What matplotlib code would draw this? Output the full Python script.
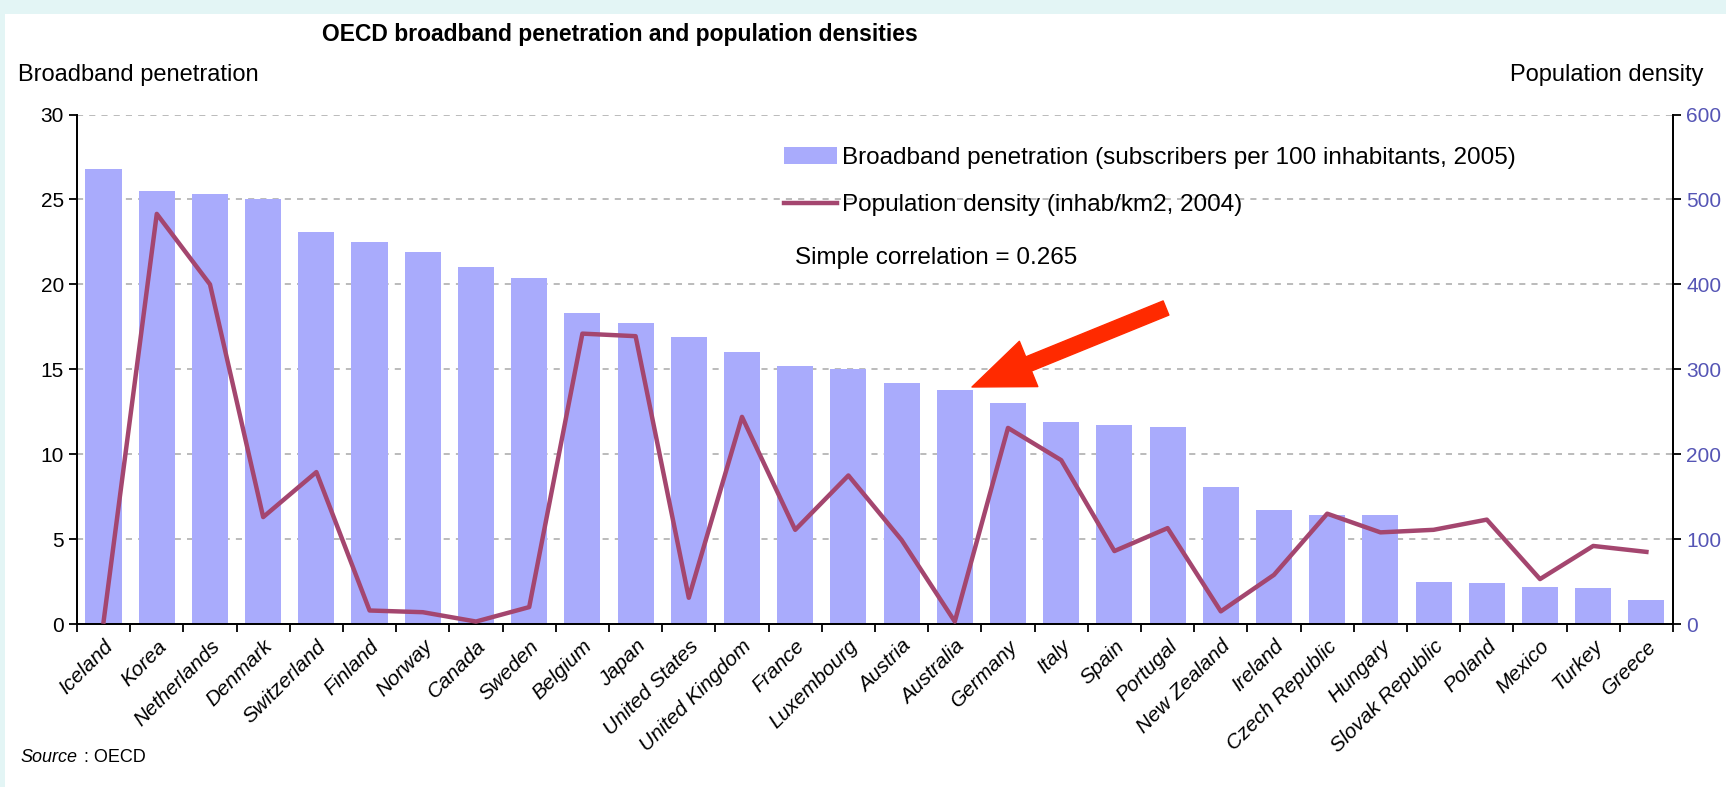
import matplotlib.pyplot as plt
from matplotlib.patches import Rectangle
import numpy as np

# data
countries = ['Iceland', 'Korea', 'Netherlands', 'Denmark', 'Switzerland', 'Finland', 'Norway',
             'Canada', 'Sweden', 'Belgium', 'Japan', 'United States', 'United Kingdom', 'France',
             'Luxembourg', 'Austria', 'Australia', 'Germany', 'Italy', 'Spain', 'Portugal',
             'New Zealand', 'Ireland', 'Czech Republic', 'Hungary', 'Slovak Republic', 'Poland',
             'Mexico', 'Turkey', 'Greece']
broadband = [26.8, 25.5, 25.3, 25.0, 23.1, 22.5, 21.9, 21.0, 20.4, 18.3, 17.7, 16.9, 16.0, 15.2,
             15.0, 14.2, 13.8, 13.0, 11.9, 11.7, 11.6, 8.1, 6.7, 6.4, 6.4, 2.5, 2.4, 2.2, 2.1, 1.4]
density = [3, 483, 400, 126, 179, 16, 14, 3, 20, 342, 339, 31, 244, 111, 175, 99, 3, 231, 193,
           86, 113, 15, 58, 130, 108, 111, 123, 53, 92, 85]

bar_color = '#a9abfc'
line_color = '#a4466f'
plt.rcParams['font.family'] = ['Liberation Sans', 'DejaVu Sans']

fig = plt.figure(figsize=(17.26, 7.87), dpi=100)
fig.patch.set_facecolor('white')
# light cyan frame strips (top and left)
fig.patches.append(Rectangle((0, 1 - 14 / 787), 1, 14 / 787, transform=fig.transFigure,
                             facecolor='#e3f5f5', edgecolor='none', zorder=-5))
fig.patches.append(Rectangle((0, 0), 5 / 1726, 1, transform=fig.transFigure,
                             facecolor='#e3f5f5', edgecolor='none', zorder=-5))

ax = fig.add_axes([0.0446, 0.207, 0.9247, 0.6475])
ax.set_facecolor('none')
x = np.arange(len(countries))
ax.bar(x, broadband, width=0.68, color=bar_color, zorder=2,
       label='Broadband penetration (subscribers per 100 inhabitants, 2005)')
ax.set_xlim(-0.5, len(countries) - 0.5)
ax.set_ylim(0, 30)
ax.set_yticks(range(0, 31, 5))
ax.yaxis.grid(True, linestyle=(0, (4, 4)), color='#a8a8a8', linewidth=1.1, zorder=0)
ax.set_axisbelow(True)
ax.spines['top'].set_visible(False)
for s in ['left', 'bottom', 'right']:
    ax.spines[s].set_linewidth(1.3)
ax.tick_params(axis='y', direction='out', length=6, width=1.3, labelsize=15)

# category ticks at boundaries, labels at centres
ax.set_xticks(np.arange(-0.5, len(countries), 1))
ax.set_xticklabels([])
ax.set_xticks(x, minor=True)
ax.set_xticklabels(countries, minor=True, rotation=45, ha='right', va='top',
                   fontsize=15, style='italic', rotation_mode='anchor')
ax.tick_params(axis='x', which='major', direction='out', length=6, width=1.3)
ax.tick_params(axis='x', which='minor', length=0, pad=9)

ax2 = ax.twinx()
ax2.plot(x, density, color=line_color, linewidth=3.2, zorder=3,
         label='Population density (inhab/km2, 2004)')
ax2.set_ylim(0, 600)
ax2.set_yticks(range(0, 601, 100))
ax2.tick_params(axis='y', direction='out', length=6, width=1.3, labelsize=15, labelcolor='#5555b5')
ax2.spines['top'].set_visible(False)
for s in ['left', 'bottom', 'right']:
    ax2.spines[s].set_linewidth(1.3)

h1, l1 = ax.get_legend_handles_labels()
h2, l2 = ax2.get_legend_handles_labels()
ax2.legend(h1 + h2, l1 + l2, loc='upper left', bbox_to_anchor=(0.429, 0.98),
           frameon=False, prop={'size': 17.5}, handlelength=2.2,
           handletextpad=0.2, labelspacing=1.05)

fig.text(795 / 1726, 1 - 258 / 787, 'Simple correlation = 0.265',
         fontsize=17.5, va='center', ha='left')
fig.text(620 / 1726, 1 - 35 / 787, 'OECD broadband penetration and population densities',
         fontsize=16.5, weight='bold', ha='center', va='center')
fig.text(18 / 1726, 1 - 75 / 787, 'Broadband penetration', fontsize=17,
         ha='left', va='center')
fig.text(1703 / 1726, 1 - 75 / 787, 'Population density', fontsize=17, ha='right', va='center')
fig.text(20 / 1726, 1 - 757 / 787, 'Source', fontsize=13, style='italic', ha='left', va='center')
fig.text(84 / 1726, 1 - 757 / 787, ': OECD', fontsize=13, ha='left', va='center')

# red arrow pointing at Australia
ax.annotate('', xy=(972, 787 - 387), xycoords='figure pixels',
            xytext=(1166, 787 - 308), textcoords='figure pixels',
            arrowprops=dict(arrowstyle='simple,head_length=2.0,head_width=1.6,tail_width=0.5',
                            color='#ff2a00', mutation_scale=22, shrinkA=0, shrinkB=0),
            zorder=10, annotation_clip=False)

fig.savefig('out.png', dpi=100)
